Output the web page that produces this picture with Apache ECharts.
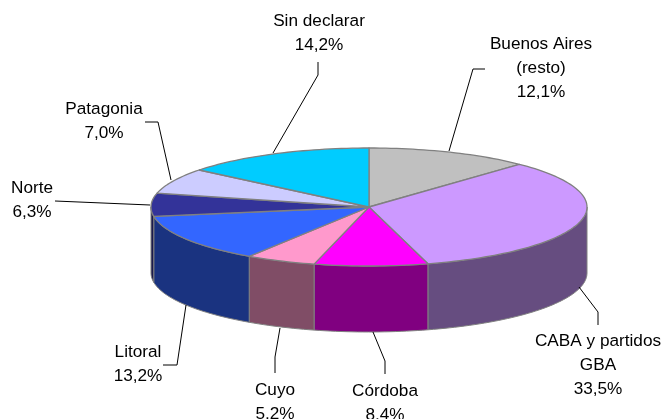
<!DOCTYPE html>
<html><head><meta charset="utf-8"><style>html,body{margin:0;padding:0;background:#fff}#c{width:664px;height:419px}</style>
<script src="https://cdn.jsdelivr.net/npm/echarts@6/dist/echarts.min.js"></script></head>
<body><div id="c"></div>
<script>
const categories = ['Buenos Aires\n(resto)','CABA y partidos\nGBA','Córdoba','Cuyo','Litoral','Norte','Patagonia','Sin declarar'];
const shares = [12.1,33.5,8.4,5.2,13.2,6.3,7.0,14.2];
const topColors = ['#C0C0C0','#CC99FF','#FF00FF','#FF99CC','#3366FF','#333399','#CCCCFF','#00CCFF'];
const wallColors = ['#606060','#664D80','#800080','#804D66','#1A3380','#1A1A4D','#66667F','#006680'];
const labelAt = [[541,68],[598,365],[385,403],[275,402],[138,364],[32,200],[104,121],[319,33]];
const leaders = [
 [[485,69],[473,69],[449,151]],
 [[598,325],[598,312],[579,287]],
 [[385,374],[385,361],[373,332]],
 [[275,373],[275,357],[280,328]],
 [[163,365],[177,365],[186,305]],
 [[55,201],[150,205]],
 [[145,122],[158,122],[171,180]],
 [[318,62],[318,75],[273,153]]
];
const CX=369, CY=207, RX=218, RY=59, DEPTH=66, GREY='#808080';

const total = shares.reduce((a,b)=>a+b,0);
let run=0;
const rows = shares.map((v,i)=>{const s=run; run+=v; return [i,s/total*360,run/total*360,v];});
const pt=(deg,dy=0)=>{const r=deg*Math.PI/180; return [CX+RX*Math.sin(r), CY-RY*Math.cos(r)+dy];};
const arc=(a,b,dy=0)=>{const n=Math.max(2,Math.ceil((b-a)/1.5)),o=[];for(let k=0;k<=n;k++)o.push(pt(a+(b-a)*k/n,dy));return o;};

const chart=echarts.init(document.getElementById('c'),null,{renderer:'canvas'});
chart.setOption({
 animation:false,
 series:[
 {type:'custom',coordinateSystem:'none',z:1,data:rows,silent:true,
  renderItem(p,api){
   const i=api.value(0),a=Math.max(api.value(1),90),b=Math.min(api.value(2),270);
   if(b<=a) return {type:'group',children:[]};
   return {type:'polygon',shape:{points:arc(a,b,0).concat(arc(a,b,DEPTH).reverse())},
     style:{fill:wallColors[i],stroke:GREY,lineWidth:1}};
  }},
 {type:'custom',coordinateSystem:'none',z:2,data:rows,silent:true,
  renderItem(p,api){
   const i=api.value(0);
   return {type:'polygon',shape:{points:[[CX,CY]].concat(arc(api.value(1),api.value(2)))},
     style:{fill:topColors[i],stroke:GREY,lineWidth:1.3,lineJoin:'round'}};
  }},
 {type:'custom',coordinateSystem:'none',z:3,data:rows,silent:true,
  renderItem(p,api){
   const i=api.value(0);
   return {type:'group',children:[
    {type:'polyline',shape:{points:leaders[i]},style:{fill:null,stroke:'#000',lineWidth:1}},
    {type:'text',x:labelAt[i][0],y:labelAt[i][1],style:{
      text:categories[i]+'\n'+api.value(3).toFixed(1).replace('.',',')+'%',
      fill:'#000',font:'17.2px "Liberation Sans"',align:'center',verticalAlign:'middle',lineHeight:24}}
   ]};
  }}
 ]
});
</script></body></html>
